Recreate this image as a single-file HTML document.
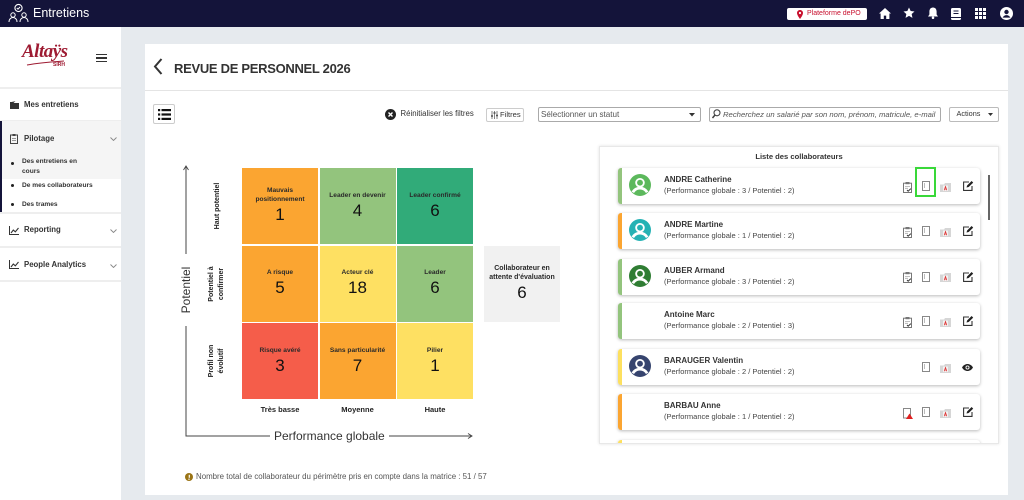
<!DOCTYPE html>
<html><head><meta charset="utf-8"><style>
*{margin:0;padding:0;box-sizing:border-box}
body{width:1024px;height:500px;overflow:hidden;background:#e6eaee;font-family:"Liberation Sans",sans-serif;color:#333;position:relative}
.a{position:absolute}
.t{position:absolute;white-space:nowrap}
.cell{position:absolute;width:76px;height:76px;display:flex;flex-direction:column;align-items:center;justify-content:center;text-align:center}
.cell .l{font-size:6.6px;font-weight:bold;line-height:9px;color:#2a2a2a}
.cell .n{font-size:17px;line-height:22px;color:#111}
.rl{position:absolute;width:76px;height:24px;display:flex;align-items:center;justify-content:center;text-align:center;transform:rotate(-90deg);font-size:7px;font-weight:bold;line-height:10px;color:#222}
.it{position:absolute;left:18px;width:362px;height:36px;background:#fff;border-radius:3px;box-shadow:0 1px 3px rgba(0,0,0,.28);overflow:hidden}
.it .bar{position:absolute;left:0;top:0;width:4px;height:36px}
.it .av{position:absolute;left:11px;top:6px}
.it .nm{position:absolute;left:46px;top:7px;font-size:8px;font-weight:bold;line-height:10px;color:#333;white-space:nowrap}
.it .sb{position:absolute;left:46px;top:18px;font-size:7.5px;line-height:10px;color:#444;white-space:nowrap}
.it svg.i{position:absolute}
.sep{position:absolute;left:0;width:121px;height:2px;background:#eeeeee}
.sbt{position:absolute;left:24px;font-size:7.8px;font-weight:bold;line-height:10px;color:#333;white-space:nowrap}
.sub{position:absolute;left:22px;font-size:6.6px;font-weight:bold;line-height:9px;color:#333;white-space:nowrap}
.dot{position:absolute;left:11px;width:3px;height:3px;border-radius:50%;background:#222}
</style></head><body>

<!-- top bar -->
<div class="a" style="left:0;top:0;width:1024px;height:27px;background:#14143a"></div>
<svg class="a" style="left:8px;top:3px" width="21" height="20" viewBox="0 0 21 20">
 <circle cx="10.5" cy="5" r="3.6" fill="none" stroke="#fff" stroke-width="1.1"/>
 <path d="M8.8 5l1.2 1.2 2-2.2" fill="none" stroke="#fff" stroke-width="1"/>
 <circle cx="5" cy="12" r="2.2" fill="none" stroke="#fff" stroke-width="1"/>
 <circle cx="16" cy="12" r="2.2" fill="none" stroke="#fff" stroke-width="1"/>
 <path d="M1 19c0-3 2-4.5 4-4.5s4 1.5 4 4.5M12 19c0-3 2-4.5 4-4.5s4 1.5 4 4.5" fill="none" stroke="#fff" stroke-width="1"/>
</svg>
<div class="t" style="left:33px;top:5px;font-size:12.5px;line-height:16px;color:#fff">Entretiens</div>

<div class="a" style="left:787px;top:8px;width:80px;height:11.5px;background:#fff;border-radius:2px"></div>
<svg class="a" style="left:797px;top:9.5px" width="6" height="9" viewBox="0 0 6 9"><path d="M3 0C1.3 0 0 1.3 0 3c0 2.2 3 6 3 6s3-3.8 3-6C6 1.3 4.7 0 3 0z" fill="#c8102e"/><circle cx="3" cy="3" r="1.1" fill="#fff"/></svg>
<div class="t" style="left:807px;top:8px;font-size:7px;line-height:11.5px;color:#c8102e">Plateforme dePO</div>

<svg class="a" style="left:879px;top:7.5px" width="12" height="11" viewBox="0 0 12 11"><path d="M6 0L0 5.5h1.6V11h3.2V7.6h2.4V11h3.2V5.5H12z" fill="#fff"/></svg>
<svg class="a" style="left:902.5px;top:7px" width="12" height="12" viewBox="0 0 24 24"><path d="M12 1l3.3 7 7.7.9-5.7 5.2 1.6 7.6L12 17.8 5.1 21.7l1.6-7.6L1 8.9 8.7 8z" fill="#fff"/></svg>
<svg class="a" style="left:927.5px;top:7px" width="10" height="12" viewBox="0 0 10 12"><path d="M5 0.5c-2.3 0-3.6 1.8-3.6 4v3L0 9.5h10L8.6 7.5v-3c0-2.2-1.3-4-3.6-4z" fill="#fff"/><circle cx="5" cy="10.8" r="1.3" fill="#fff"/></svg>
<svg class="a" style="left:950.5px;top:7.5px" width="10" height="12" viewBox="0 0 10 12"><rect x="0" y="0" width="10" height="12" rx="1.5" fill="#fff"/><path d="M2.5 3h5M2.5 5.5h5" stroke="#14143a" stroke-width="1"/><path d="M0 9.5h10" stroke="#14143a" stroke-width="1"/></svg>
<svg class="a" style="left:975px;top:8px" width="11" height="11" viewBox="0 0 11 11" fill="#fff"><rect x="0" y="0" width="3" height="3"/><rect x="4" y="0" width="3" height="3"/><rect x="8" y="0" width="3" height="3"/><rect x="0" y="4" width="3" height="3"/><rect x="4" y="4" width="3" height="3"/><rect x="8" y="4" width="3" height="3"/><rect x="0" y="8" width="3" height="3"/><rect x="4" y="8" width="3" height="3"/><rect x="8" y="8" width="3" height="3"/></svg>
<svg class="a" style="left:999.5px;top:6.5px" width="13" height="13" viewBox="0 0 13 13"><circle cx="6.5" cy="6.5" r="6.5" fill="#fff"/><circle cx="6.5" cy="5" r="2.2" fill="#14143a"/><path d="M2.6 10.6c1-1.8 2.3-2.5 3.9-2.5s2.9.7 3.9 2.5" fill="#14143a"/></svg>

<!-- sidebar -->
<div class="a" style="left:0;top:27px;width:121px;height:473px;background:#fff"></div>
<div class="t" style="left:22px;top:40px;font-family:'Liberation Serif',serif;font-style:italic;font-weight:bold;font-size:19px;line-height:24px;color:#9e1b32;letter-spacing:-0.5px">Altaÿs</div>
<svg class="a" style="left:26px;top:60px" width="40" height="6"><path d="M1 5C12 3 24 2 38 1" stroke="#9e1b32" stroke-width="1" fill="none"/></svg>
<div class="t" style="left:53px;top:62px;font-size:5px;font-weight:bold;line-height:6px;color:#9e1b32">SIRH</div>
<div class="a" style="left:96px;top:53.5px;width:11px;height:1.5px;background:#333"></div>
<div class="a" style="left:96px;top:57px;width:11px;height:1.5px;background:#333"></div>
<div class="a" style="left:96px;top:60.5px;width:11px;height:1.5px;background:#333"></div>
<div class="sep" style="top:87px"></div>
<svg class="a" style="left:10px;top:101px" width="9" height="8" viewBox="0 0 9 8"><path d="M0 1h3.5l1 1H9v6H0z" fill="#333"/><path d="M1.5 0h3l1 1" fill="#555"/></svg>
<div class="sbt" style="top:100.3px">Mes entretiens</div>
<div class="sep" style="top:119.5px"></div>
<div class="a" style="left:0;top:121px;width:121px;height:58px;background:#f5f5f5"></div>
<div class="a" style="left:0;top:121px;width:2px;height:92px;background:#14143a"></div>
<svg class="a" style="left:10px;top:133.5px" width="8" height="10" viewBox="0 0 8 10"><rect x="0.5" y="1" width="7" height="8.5" fill="none" stroke="#444" stroke-width="1"/><rect x="2.5" y="0" width="3" height="2" fill="#444"/><path d="M2 4.5h4M2 6.5h4" stroke="#777" stroke-width=".8"/></svg>
<div class="sbt" style="top:133.5px">Pilotage</div>
<svg class="a" style="left:110px;top:137px" width="7" height="4"><path d="M0.5 0.5l3 3 3-3" stroke="#888" fill="none" stroke-width=".9"/></svg>
<div class="dot" style="top:162px"></div>
<div class="sub" style="top:157px">Des entretiens en</div>
<div class="sub" style="top:166.5px">cours</div>
<div class="dot" style="top:183.5px"></div>
<div class="sub" style="top:180.5px">De mes collaborateurs</div>
<div class="dot" style="top:202.5px"></div>
<div class="sub" style="top:199.5px">Des trames</div>
<div class="sep" style="top:212px"></div>
<svg class="a" style="left:9px;top:225.5px" width="10" height="9" viewBox="0 0 10 9"><path d="M0.5 0v8.5H10" stroke="#333" fill="none" stroke-width="1"/><path d="M2 7l2.3-3 2 1.8L9.5 2" stroke="#333" fill="none" stroke-width="1.1"/></svg>
<div class="sbt" style="top:225px">Reporting</div>
<svg class="a" style="left:110px;top:229px" width="7" height="4"><path d="M0.5 0.5l3 3 3-3" stroke="#888" fill="none" stroke-width=".9"/></svg>
<div class="sep" style="top:246px"></div>
<svg class="a" style="left:9px;top:259.5px" width="10" height="9" viewBox="0 0 10 9"><path d="M0.5 0v8.5H10" stroke="#333" fill="none" stroke-width="1"/><path d="M2 7l2.3-3 2 1.8L9.5 2" stroke="#333" fill="none" stroke-width="1.1"/></svg>
<div class="sbt" style="top:259.5px">People Analytics</div>
<svg class="a" style="left:110px;top:264px" width="7" height="4"><path d="M0.5 0.5l3 3 3-3" stroke="#888" fill="none" stroke-width=".9"/></svg>
<div class="sep" style="top:280px"></div>

<!-- card -->
<div class="a" style="left:145px;top:44px;width:863px;height:451px;background:#fff"></div>
<svg class="a" style="left:153px;top:58px" width="10" height="17"><path d="M8.5 1L2 8.5 8.5 16" stroke="#333" stroke-width="2" fill="none"/></svg>
<div class="t" style="left:174px;top:60px;font-size:13px;font-weight:bold;line-height:17px;letter-spacing:-0.3px;color:#333">REVUE DE PERSONNEL 2026</div>
<div class="a" style="left:145px;top:90px;width:863px;height:1px;background:#e4e4e4"></div>

<!-- toolbar -->
<div class="a" style="left:153px;top:104px;width:22px;height:20px;border:1px solid #ccc;border-radius:2px;background:#fff"></div>
<svg class="a" style="left:157.5px;top:108.5px" width="13" height="11" viewBox="0 0 13 11" fill="#111"><rect x="0" y="0" width="2.2" height="2.2"/><rect x="3.5" y="0" width="9.5" height="2.2"/><rect x="0" y="4.4" width="2.2" height="2.2"/><rect x="3.5" y="4.4" width="9.5" height="2.2"/><rect x="0" y="8.8" width="2.2" height="2.2"/><rect x="3.5" y="8.8" width="9.5" height="2.2"/></svg>
<svg class="a" style="left:385px;top:109px" width="11" height="11" viewBox="0 0 11 11"><circle cx="5.5" cy="5.5" r="5.5" fill="#222"/><path d="M3.5 3.5l4 4M7.5 3.5l-4 4" stroke="#fff" stroke-width="1.4"/></svg>
<div class="t" style="left:400.5px;top:109px;font-size:7.8px;line-height:10px;color:#333">Réinitialiser les filtres</div>
<div class="a" style="left:486px;top:107.5px;width:38px;height:14px;border:1px solid #ccc;border-radius:2px"></div>
<svg class="a" style="left:491px;top:110.5px" width="7" height="8" viewBox="0 0 7 8"><path d="M1 0v8M3.5 0v8M6 0v8" stroke="#777" stroke-width=".9"/><path d="M0 5h2M2.5 2h2M5 4.5h2" stroke="#555" stroke-width="1.4"/></svg>
<div class="t" style="left:500px;top:109.5px;font-size:7.6px;line-height:10px;color:#333">Filtres</div>
<div class="a" style="left:538px;top:107px;width:163px;height:15px;border:1px solid #aaa;border-radius:2px"></div>
<div class="t" style="left:541px;top:109.5px;font-size:8.1px;line-height:10px;color:#555">Sélectionner un statut</div>
<svg class="a" style="left:689px;top:113px" width="6" height="4"><path d="M0 0h6L3 3.5z" fill="#333"/></svg>
<div class="a" style="left:709px;top:107px;width:232px;height:15px;border:1px solid #aaa;border-radius:2px"></div>
<svg class="a" style="left:712px;top:109px" width="9" height="10" viewBox="0 0 9 10"><circle cx="5" cy="3.8" r="3" fill="none" stroke="#444" stroke-width="1.1"/><path d="M3 6l-2.5 3" stroke="#444" stroke-width="1.5"/></svg>
<div class="a" style="left:722px;top:108px;width:217px;height:13px;overflow:hidden"><div class="t" style="left:1px;top:1.5px;font-size:7.7px;line-height:10px;font-style:italic;color:#555">Recherchez un salarié par son nom, prénom, matricule, e-mail</div></div>
<div class="a" style="left:949px;top:107px;width:50px;height:15px;border:1px solid #bbb;border-radius:2px"></div>
<div class="t" style="left:956.5px;top:109px;font-size:7.3px;line-height:10px;color:#333">Actions</div>
<svg class="a" style="left:987.5px;top:113px" width="5" height="3"><path d="M0 0h5L2.5 3z" fill="#333"/></svg>

<!-- matrix axes -->
<svg class="a" style="left:180px;top:160px" width="300" height="285">
 <path d="M6 6V276H292" stroke="#444" stroke-width="1" fill="none"/>
 <path d="M3.5 10L6 6 8.5 10" stroke="#444" stroke-width="0.9" fill="none"/>
 <path d="M288 273.5L292 276 288 278.5" stroke="#444" stroke-width="0.9" fill="none"/>
</svg>
<div class="a" style="left:150px;top:282px;width:72px;height:16px;transform:rotate(-90deg);background:#fff;text-align:center;font-size:12px;line-height:16px;color:#333">Potentiel</div>
<div class="t" style="left:270px;top:428px;padding:0 4px;background:#fff;font-size:12px;line-height:16px;color:#333">Performance globale</div>

<div class="rl" style="left:180px;top:194px">Haut potentiel</div>
<div class="rl" style="left:179px;top:271.5px">Potentiel à<br>confirmer</div>
<div class="rl" style="left:179px;top:348.5px">Profil non<br>évolutif</div>

<div class="cell" style="left:242px;top:168px;background:#fba531"><div class="l">Mauvais<br>positionnement</div><div class="n">1</div></div>
<div class="cell" style="left:319.5px;top:168px;background:#93c47d"><div class="l">Leader en devenir</div><div class="n">4</div></div>
<div class="cell" style="left:397px;top:168px;background:#31ab79"><div class="l">Leader confirmé</div><div class="n">6</div></div>
<div class="cell" style="left:242px;top:245.5px;background:#fba531"><div class="l">A risque</div><div class="n">5</div></div>
<div class="cell" style="left:319.5px;top:245.5px;background:#fee062"><div class="l">Acteur clé</div><div class="n">18</div></div>
<div class="cell" style="left:397px;top:245.5px;background:#93c47d"><div class="l">Leader</div><div class="n">6</div></div>
<div class="cell" style="left:242px;top:323px;background:#f55d4a"><div class="l">Risque avéré</div><div class="n">3</div></div>
<div class="cell" style="left:319.5px;top:323px;background:#fba531"><div class="l">Sans particularité</div><div class="n">7</div></div>
<div class="cell" style="left:397px;top:323px;background:#fee062"><div class="l">Pilier</div><div class="n">1</div></div>

<div class="cell" style="left:484px;top:245.5px;background:#f1f1f1"><div class="l" style="font-size:7px">Collaborateur en<br>attente d'évaluation</div><div class="n">6</div></div>

<div class="t" style="left:242px;top:405px;width:76px;text-align:center;font-size:7.5px;font-weight:bold;line-height:10px;color:#222">Très basse</div>
<div class="t" style="left:319.5px;top:405px;width:76px;text-align:center;font-size:7.5px;font-weight:bold;line-height:10px;color:#222">Moyenne</div>
<div class="t" style="left:397px;top:405px;width:76px;text-align:center;font-size:7.5px;font-weight:bold;line-height:10px;color:#222">Haute</div>

<svg class="a" style="left:185px;top:472.5px" width="8" height="8" viewBox="0 0 8 8"><circle cx="4" cy="4" r="4" fill="#9a7416"/><path d="M4.3 1.8v3" stroke="#fff" stroke-width="1.2"/><circle cx="4" cy="6.2" r=".7" fill="#fff"/></svg>
<div class="t" style="left:196px;top:472px;font-size:7.9px;line-height:10px;color:#555">Nombre total de collaborateur du périmètre pris en compte dans la matrice : 51 / 57</div>

<!-- list panel -->
<div class="a" style="left:599px;top:146px;width:400px;height:298px;background:#fff;border:1px solid #e8e8e8;box-shadow:0 0 3px rgba(0,0,0,.12);overflow:hidden">
 <div class="t" style="left:0;top:5px;width:398px;text-align:center;font-size:7.6px;font-weight:bold;line-height:10px;color:#333">Liste des collaborateurs</div>

 <!-- 1 -->
 <div class="it" style="top:21.3px"><div class="bar" style="background:#93c47d"></div>
  <svg class="av" width="22" height="22" viewBox="0 0 24 24"><circle cx="12" cy="12" r="12" fill="#5cb85c"/><circle cx="12" cy="9.5" r="5.2" fill="#fff"/><circle cx="12" cy="9.5" r="3.2" fill="#5cb85c"/><path d="M4.2 20c2-3.5 4.8-4.6 7.8-4.6s5.8 1.1 7.8 4.6" stroke="#fff" stroke-width="3" fill="none"/></svg>
  <div class="nm">ANDRE Catherine</div><div class="sb">(Performance globale : 3 / Potentiel : 2)</div>
  <svg class="i" style="left:285px;top:13.5px" width="9" height="11" viewBox="0 0 9 11"><rect x="0.5" y="1.2" width="8" height="9.3" fill="#fff" stroke="#777" stroke-width="1"/><rect x="2.5" y="0" width="4" height="2.2" fill="#777"/><path d="M2 4.5h5M2 6.3h3" stroke="#aaa" stroke-width=".8"/><path d="M4 8l1.2 1.2 2.6-2.6" stroke="#333" stroke-width="1" fill="none"/></svg>
  <svg class="i" style="left:303.5px;top:13px" width="8" height="10" viewBox="0 0 8 10"><rect x="0.5" y="0.5" width="7" height="9" fill="#fff" stroke="#888" stroke-width="1"/><path d="M2.5 2v5" stroke="#aaa" stroke-width=".8"/></svg>
  <svg class="i" style="left:321.5px;top:14.5px" width="11" height="9" viewBox="0 0 11 9"><path d="M0 1.5h4l1-1.5h6v9H0z" fill="#d6d6d6"/><rect x="3" y="2.5" width="5" height="5.5" fill="#f2f2f2"/><path d="M4.2 7.2l1.3-3.8 1.3 3.8M4.6 6h1.8" stroke="#d22" stroke-width=".7" fill="none"/></svg>
  <svg class="i" style="left:344.5px;top:13px" width="11" height="10" viewBox="0 0 11 10"><path d="M6 1H0.6v8.4h8.4V5" stroke="#333" stroke-width="1.1" fill="none"/><path d="M3.5 6.5l.6-2L8.6 0l1.6 1.6L5.7 6z" fill="#222"/></svg>
 </div>

 <!-- 2 -->
 <div class="it" style="top:66.3px"><div class="bar" style="background:#fba531"></div>
  <svg class="av" width="22" height="22" viewBox="0 0 24 24"><circle cx="12" cy="12" r="12" fill="#25b2b4"/><circle cx="12" cy="9.5" r="5.2" fill="#fff"/><circle cx="12" cy="9.5" r="3.2" fill="#25b2b4"/><path d="M4.2 20c2-3.5 4.8-4.6 7.8-4.6s5.8 1.1 7.8 4.6" stroke="#fff" stroke-width="3" fill="none"/></svg>
  <div class="nm">ANDRE Martine</div><div class="sb">(Performance globale : 1 / Potentiel : 2)</div>
  <svg class="i" style="left:285px;top:13.5px" width="9" height="11" viewBox="0 0 9 11"><rect x="0.5" y="1.2" width="8" height="9.3" fill="#fff" stroke="#777" stroke-width="1"/><rect x="2.5" y="0" width="4" height="2.2" fill="#777"/><path d="M2 4.5h5M2 6.3h3" stroke="#aaa" stroke-width=".8"/><path d="M4 8l1.2 1.2 2.6-2.6" stroke="#333" stroke-width="1" fill="none"/></svg>
  <svg class="i" style="left:303.5px;top:13px" width="8" height="10" viewBox="0 0 8 10"><rect x="0.5" y="0.5" width="7" height="9" fill="#fff" stroke="#888" stroke-width="1"/><path d="M2.5 2v5" stroke="#aaa" stroke-width=".8"/></svg>
  <svg class="i" style="left:321.5px;top:14.5px" width="11" height="9" viewBox="0 0 11 9"><path d="M0 1.5h4l1-1.5h6v9H0z" fill="#d6d6d6"/><rect x="3" y="2.5" width="5" height="5.5" fill="#f2f2f2"/><path d="M4.2 7.2l1.3-3.8 1.3 3.8M4.6 6h1.8" stroke="#d22" stroke-width=".7" fill="none"/></svg>
  <svg class="i" style="left:344.5px;top:13px" width="11" height="10" viewBox="0 0 11 10"><path d="M6 1H0.6v8.4h8.4V5" stroke="#333" stroke-width="1.1" fill="none"/><path d="M3.5 6.5l.6-2L8.6 0l1.6 1.6L5.7 6z" fill="#222"/></svg>
 </div>

 <!-- 3 -->
 <div class="it" style="top:111.7px"><div class="bar" style="background:#93c47d"></div>
  <svg class="av" width="22" height="22" viewBox="0 0 24 24"><circle cx="12" cy="12" r="12" fill="#2f7d33"/><circle cx="12" cy="9.5" r="5.2" fill="#fff"/><circle cx="12" cy="9.5" r="3.2" fill="#2f7d33"/><path d="M4.2 20c2-3.5 4.8-4.6 7.8-4.6s5.8 1.1 7.8 4.6" stroke="#fff" stroke-width="3" fill="none"/></svg>
  <div class="nm">AUBER Armand</div><div class="sb">(Performance globale : 3 / Potentiel : 2)</div>
  <svg class="i" style="left:285px;top:13.5px" width="9" height="11" viewBox="0 0 9 11"><rect x="0.5" y="1.2" width="8" height="9.3" fill="#fff" stroke="#777" stroke-width="1"/><rect x="2.5" y="0" width="4" height="2.2" fill="#777"/><path d="M2 4.5h5M2 6.3h3" stroke="#aaa" stroke-width=".8"/><path d="M4 8l1.2 1.2 2.6-2.6" stroke="#333" stroke-width="1" fill="none"/></svg>
  <svg class="i" style="left:303.5px;top:13px" width="8" height="10" viewBox="0 0 8 10"><rect x="0.5" y="0.5" width="7" height="9" fill="#fff" stroke="#888" stroke-width="1"/><path d="M2.5 2v5" stroke="#aaa" stroke-width=".8"/></svg>
  <svg class="i" style="left:321.5px;top:14.5px" width="11" height="9" viewBox="0 0 11 9"><path d="M0 1.5h4l1-1.5h6v9H0z" fill="#d6d6d6"/><rect x="3" y="2.5" width="5" height="5.5" fill="#f2f2f2"/><path d="M4.2 7.2l1.3-3.8 1.3 3.8M4.6 6h1.8" stroke="#d22" stroke-width=".7" fill="none"/></svg>
  <svg class="i" style="left:344.5px;top:13px" width="11" height="10" viewBox="0 0 11 10"><path d="M6 1H0.6v8.4h8.4V5" stroke="#333" stroke-width="1.1" fill="none"/><path d="M3.5 6.5l.6-2L8.6 0l1.6 1.6L5.7 6z" fill="#222"/></svg>
 </div>

 <!-- 4 -->
 <div class="it" style="top:156.3px"><div class="bar" style="background:#93c47d"></div>
  <div class="nm">Antoine Marc</div><div class="sb">(Performance globale : 2 / Potentiel : 3)</div>
  <svg class="i" style="left:285px;top:13.5px" width="9" height="11" viewBox="0 0 9 11"><rect x="0.5" y="1.2" width="8" height="9.3" fill="#fff" stroke="#777" stroke-width="1"/><rect x="2.5" y="0" width="4" height="2.2" fill="#777"/><path d="M2 4.5h5M2 6.3h3" stroke="#aaa" stroke-width=".8"/><path d="M4 8l1.2 1.2 2.6-2.6" stroke="#333" stroke-width="1" fill="none"/></svg>
  <svg class="i" style="left:303.5px;top:13px" width="8" height="10" viewBox="0 0 8 10"><rect x="0.5" y="0.5" width="7" height="9" fill="#fff" stroke="#888" stroke-width="1"/><path d="M2.5 2v5" stroke="#aaa" stroke-width=".8"/></svg>
  <svg class="i" style="left:321.5px;top:14.5px" width="11" height="9" viewBox="0 0 11 9"><path d="M0 1.5h4l1-1.5h6v9H0z" fill="#d6d6d6"/><rect x="3" y="2.5" width="5" height="5.5" fill="#f2f2f2"/><path d="M4.2 7.2l1.3-3.8 1.3 3.8M4.6 6h1.8" stroke="#d22" stroke-width=".7" fill="none"/></svg>
  <svg class="i" style="left:344.5px;top:13px" width="11" height="10" viewBox="0 0 11 10"><path d="M6 1H0.6v8.4h8.4V5" stroke="#333" stroke-width="1.1" fill="none"/><path d="M3.5 6.5l.6-2L8.6 0l1.6 1.6L5.7 6z" fill="#222"/></svg>
 </div>

 <!-- 5 -->
 <div class="it" style="top:202px"><div class="bar" style="background:#fde05f"></div>
  <svg class="av" width="22" height="22" viewBox="0 0 24 24"><circle cx="12" cy="12" r="12" fill="#36446e"/><circle cx="12" cy="9.5" r="5.2" fill="#fff"/><circle cx="12" cy="9.5" r="3.2" fill="#36446e"/><path d="M4.2 20c2-3.5 4.8-4.6 7.8-4.6s5.8 1.1 7.8 4.6" stroke="#fff" stroke-width="3" fill="none"/></svg>
  <div class="nm">BARAUGER Valentin</div><div class="sb">(Performance globale : 2 / Potentiel : 2)</div>
  <svg class="i" style="left:303.5px;top:13px" width="8" height="10" viewBox="0 0 8 10"><rect x="0.5" y="0.5" width="7" height="9" fill="#fff" stroke="#888" stroke-width="1"/><path d="M2.5 2v5" stroke="#aaa" stroke-width=".8"/></svg>
  <svg class="i" style="left:321.5px;top:14.5px" width="11" height="9" viewBox="0 0 11 9"><path d="M0 1.5h4l1-1.5h6v9H0z" fill="#d6d6d6"/><rect x="3" y="2.5" width="5" height="5.5" fill="#f2f2f2"/><path d="M4.2 7.2l1.3-3.8 1.3 3.8M4.6 6h1.8" stroke="#d22" stroke-width=".7" fill="none"/></svg>
  <svg class="i" style="left:344px;top:14.5px" width="11" height="7" viewBox="0 0 11 7"><path d="M0 3.5C1.5 1 3.5 0 5.5 0S9.5 1 11 3.5C9.5 6 7.5 7 5.5 7S1.5 6 0 3.5z" fill="#222"/><circle cx="5.5" cy="3.5" r="2" fill="#fff"/><circle cx="5.5" cy="3.5" r="1.1" fill="#222"/></svg>
 </div>

 <!-- 6 -->
 <div class="it" style="top:247.3px"><div class="bar" style="background:#fba531"></div>
  <div class="nm">BARBAU Anne</div><div class="sb">(Performance globale : 1 / Potentiel : 2)</div>
  <svg class="i" style="left:285px;top:13.5px" width="10" height="11" viewBox="0 0 10 11"><rect x="0.5" y="0.5" width="7" height="9.5" fill="#fff" stroke="#888"/><path d="M6.5 5.5L10 11H3z" fill="#e02020"/></svg>
  <svg class="i" style="left:303.5px;top:13px" width="8" height="10" viewBox="0 0 8 10"><rect x="0.5" y="0.5" width="7" height="9" fill="#fff" stroke="#888" stroke-width="1"/><path d="M2.5 2v5" stroke="#aaa" stroke-width=".8"/></svg>
  <svg class="i" style="left:321.5px;top:14.5px" width="11" height="9" viewBox="0 0 11 9"><path d="M0 1.5h4l1-1.5h6v9H0z" fill="#d6d6d6"/><rect x="3" y="2.5" width="5" height="5.5" fill="#f2f2f2"/><path d="M4.2 7.2l1.3-3.8 1.3 3.8M4.6 6h1.8" stroke="#d22" stroke-width=".7" fill="none"/></svg>
  <svg class="i" style="left:344.5px;top:13px" width="11" height="10" viewBox="0 0 11 10"><path d="M6 1H0.6v8.4h8.4V5" stroke="#333" stroke-width="1.1" fill="none"/><path d="M3.5 6.5l.6-2L8.6 0l1.6 1.6L5.7 6z" fill="#222"/></svg>
 </div>

 <!-- 7 (cut) -->
 <div class="it" style="top:292.7px"><div class="bar" style="background:#fde05f"></div></div>
</div>

<div class="a" style="left:915px;top:166.7px;width:21px;height:30px;border:2px solid #39d839"></div>
<div class="a" style="left:988px;top:175px;width:2px;height:45px;background:#666"></div>
</body></html>
